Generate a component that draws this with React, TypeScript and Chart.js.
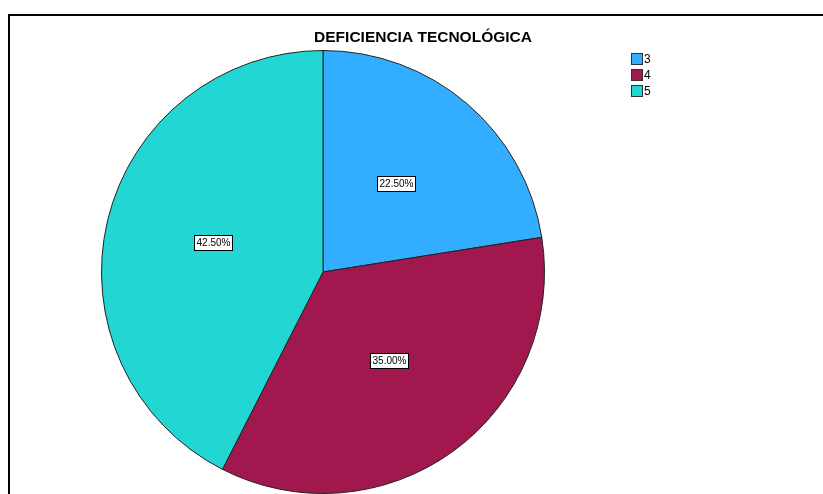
import React, { useEffect, useRef } from "react";
import { Chart, registerables } from "chart.js";

Chart.register(...registerables);

const categories = ["3", "4", "5"];
const percentages = [22.5, 35.0, 42.5];
const sliceColors = ["#33adff", "#a0184e", "#21d6d3"];
const chartTitle = "DEFICIENCIA TECNOLÓGICA";

const overlayPlugin = {
  id: "overlay",
  afterDatasetsDraw(chart: any) {
    const ctx = chart.ctx as CanvasRenderingContext2D;
    const meta = chart.getDatasetMeta(0);
    ctx.save();
    // slice labels
    ctx.font = "10px Arial, 'Liberation Sans', sans-serif";
    ctx.textAlign = "center";
    ctx.textBaseline = "middle";
    meta.data.forEach((arc: any, i: number) => {
      const p = arc.getProps(["x", "y", "startAngle", "endAngle", "outerRadius"], true);
      const mid = (p.startAngle + p.endAngle) / 2;
      const r = p.outerRadius * 0.51;
      const cx = p.x + Math.cos(mid) * r;
      const cy = p.y + Math.sin(mid) * r - 3;
      const txt = percentages[i].toFixed(2) + "%";
      const w = ctx.measureText(txt).width + 4;
      const h = 15;
      const bx = Math.round(cx - w / 2) + 0.5;
      const by = Math.round(cy - h / 2) + 0.5;
      ctx.fillStyle = "#ffffff";
      ctx.fillRect(bx, by, Math.round(w), h);
      ctx.strokeStyle = "#000000";
      ctx.lineWidth = 1;
      ctx.strokeRect(bx, by, Math.round(w), h);
      ctx.fillStyle = "#000000";
      ctx.fillText(txt, bx + Math.round(w) / 2, by + h / 2 + 0.5);
    });
    // title
    ctx.font = "bold 15.5px Arial, 'Liberation Sans', sans-serif";
    ctx.textAlign = "center";
    ctx.textBaseline = "middle";
    ctx.fillStyle = "#000000";
    ctx.fillText(chartTitle, 423, 38);
    // legend
    ctx.font = "12px Arial, 'Liberation Sans', sans-serif";
    ctx.textAlign = "left";
    categories.forEach((c, i) => {
      const y = 53 + i * 16;
      ctx.fillStyle = sliceColors[i];
      ctx.fillRect(631.5, y + 0.5, 11, 11);
      ctx.strokeStyle = "#333333";
      ctx.lineWidth = 1;
      ctx.strokeRect(631.5, y + 0.5, 11, 11);
      ctx.fillStyle = "#000000";
      ctx.fillText(c, 644, y + 6.5);
    });
    // frame
    ctx.fillStyle = "#000000";
    ctx.fillRect(8, 14, 823, 2);
    ctx.fillRect(8, 14, 2, 494);
    ctx.restore();
  },
};

export default function App() {
  const ref = useRef<HTMLCanvasElement>(null);
  useEffect(() => {
    if (!ref.current) return;
    const chart = new Chart(ref.current, {
      type: "pie",
      data: {
        labels: categories,
        datasets: [
          {
            data: percentages,
            backgroundColor: sliceColors,
            borderColor: "#222222",
            borderWidth: 1,
          },
        ],
      },
      options: {
        responsive: false,
        animation: false,
        layout: { padding: { left: 101, right: 278, top: 50, bottom: 0 } },
        plugins: {
          legend: { display: false },
          title: { display: false },
          tooltip: { enabled: false },
        },
      },
      plugins: [overlayPlugin],
    });
    return () => chart.destroy();
  }, []);
  return (
    <div style={{ position: "fixed", left: 0, top: 0, width: 823, height: 494, background: "#fff" }}>
      <canvas ref={ref} width={823} height={494} style={{ display: "block", width: 823, height: 494 }} />
    </div>
  );
}
